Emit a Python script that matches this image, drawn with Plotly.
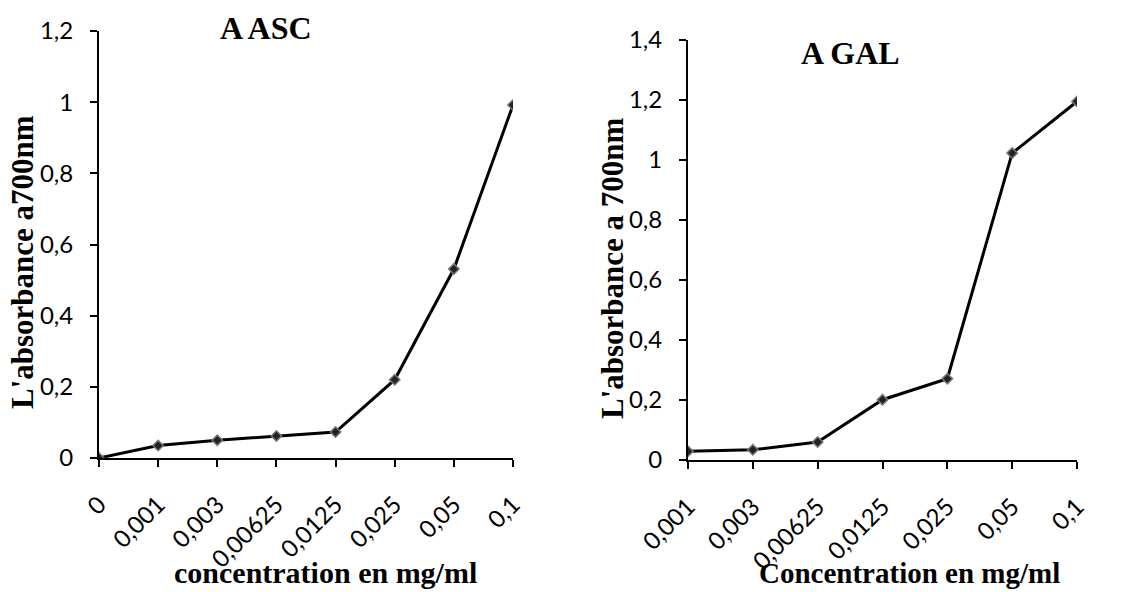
import plotly.graph_objects as go

# Data
asc_conc = ["0", "0,001", "0,003", "0,00625", "0,0125", "0,025", "0,05", "0,1"]
asc_abs = [0.0, 0.035, 0.05, 0.062, 0.073, 0.22, 0.531, 0.992]

gal_conc = ["0,001", "0,003", "0,00625", "0,0125", "0,025", "0,05", "0,1"]
gal_abs = [0.029, 0.034, 0.06, 0.201, 0.271, 1.023, 1.195]

asc_yticks = [0, 0.2, 0.4, 0.6, 0.8, 1.0, 1.2]
gal_yticks = [0, 0.2, 0.4, 0.6, 0.8, 1.0, 1.2, 1.4]

W, H = 1129, 592
TICKFONT = dict(family="Lato, Carlito, sans-serif", size=24, color="black")
TITLEFONT = dict(family="Liberation Serif, Times New Roman, serif", size=30, color="black", weight="bold")

fig = go.Figure()

marker = dict(symbol="diamond", size=8, color="#222222", line=dict(color="#777777", width=1.5))

fig.add_trace(go.Scatter(x=asc_conc, y=asc_abs, mode="lines+markers",
                         line=dict(color="black", width=3), marker=marker,
                         xaxis="x", yaxis="y", showlegend=False))
fig.add_trace(go.Scatter(x=gal_conc, y=gal_abs, mode="lines+markers",
                         line=dict(color="black", width=3), marker=marker,
                         xaxis="x2", yaxis="y2", showlegend=False))

def px_x(p):
    return p / W

def px_y(p):
    return 1 - p / H

axis_common = dict(showgrid=False, zeroline=False, showline=True, linecolor="black", linewidth=2,
                   ticks="outside", ticklen=7, tickwidth=1.8, tickcolor="black",
                   tickfont=TICKFONT, automargin=False)

fig.update_layout(
    width=W, height=H,
    margin=dict(l=0, r=0, t=0, b=0),
    paper_bgcolor="white", plot_bgcolor="white",
    separators=", ",
    xaxis=dict(domain=[px_x(99), px_x(513)], anchor="y", type="category",
               categoryorder="array", categoryarray=asc_conc,
               range=[0, len(asc_conc) - 1], tickangle=-45, ticklabelstandoff=14, **axis_common),
    yaxis=dict(domain=[px_y(458), px_y(31)], anchor="x", range=[0, 1.2],
               tickvals=asc_yticks, ticklabelstandoff=12, **axis_common),
    xaxis2=dict(domain=[px_x(688), px_x(1077)], anchor="y2", type="category",
                categoryorder="array", categoryarray=gal_conc,
                range=[0, len(gal_conc) - 1], tickangle=-45, ticklabelstandoff=14, **axis_common),
    yaxis2=dict(domain=[px_y(460), px_y(40)], anchor="x2", range=[0, 1.4],
                tickvals=gal_yticks, ticklabelstandoff=12, **axis_common),
)

def ann(text, x, y, angle=0, size=30):
    f = dict(TITLEFONT)
    f["size"] = size
    fig.add_annotation(text=text, x=px_x(x), y=px_y(y), xref="paper", yref="paper",
                       showarrow=False, textangle=angle, font=f,
                       xanchor="center", yanchor="middle")

ann("A ASC", 266, 28, size=32)
ann("A GAL", 850, 53, size=32)
ann("concentration en mg/ml", 325, 572, size=30)
ann("Concentration en mg/ml", 909, 573, size=29)
ann("L'absorbance a700nm", 22, 262, angle=-90, size=31)
ann("L'absorbance a 700nm", 613, 268, angle=-90, size=31)

fig.write_html("out.html")
